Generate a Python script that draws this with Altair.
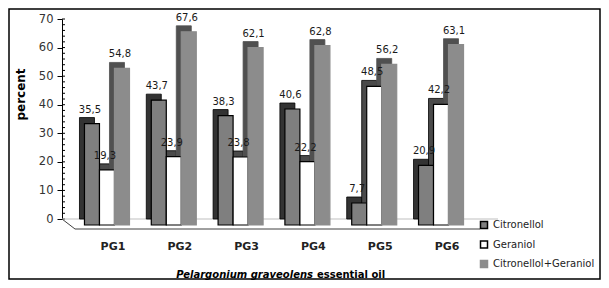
import altair as alt
import pandas as pd

samples = ["PG1", "PG2", "PG3", "PG4", "PG5", "PG6"]
series = ["Citronellol", "Geraniol", "Citronellol+Geraniol"]
citronellol = [35.5, 43.7, 38.3, 40.6, 7.7, 20.9]
geraniol = [19.3, 23.9, 23.8, 22.2, 48.5, 42.2]
combined = [54.8, 67.6, 62.1, 62.8, 56.2, 63.1]
y_ticks = [0, 10, 20, 30, 40, 50, 60, 70]
y_minor = list(range(0, 71, 2))

rows = []
for s, vals in zip(series, [citronellol, geraniol, combined]):
    for p, v in zip(samples, vals):
        rows.append({"sample": p, "series": s, "value": v,
                     "label": f"{v:.1f}".replace(".", ",")})
df = pd.DataFrame(rows)
minor_df = pd.DataFrame({"value": y_minor})

W, H = 436, 200
FONT = "DejaVu Sans"

fills = ["#7f7f7f", "#ffffff", "#8c8c8c"]
strokes = ["#000000", "#000000", "#8c8c8c"]
shadow_fill = ["#333333", "#4a4a4a", "#505050"]
shadow_stroke = ["#000000", "#000000", "#505050"]
offsets = [-21, -6, 9]

xscale = alt.Scale(domain=samples, paddingInner=0.1, paddingOuter=0.313)
yscale = alt.Scale(domain=[0, 70], nice=False, zero=True)

X = alt.X("sample:N", scale=xscale, sort=samples,
          axis=alt.Axis(title=None, domain=False, ticks=False, labelPadding=21,
                        labelFontSize=11, labelFontWeight="bold", labelAngle=0,
                        labelColor="#222222", labelFont=FONT))

main_axis = alt.Axis(values=y_ticks, tickSize=5, domainColor="black", tickColor="black",
                     labelFontSize=11.5, labelColor="#333333", labelFont=FONT, labelPadding=4,
                     title="percent", titleFontSize=12, titleFontWeight="bold", titleFont=FONT,
                     titleX=-42, titleY=75, titleBaseline="middle", titleColor="black",
                     orient="left", grid=False)
Y = alt.Y("value:Q", scale=yscale, axis=main_axis)

legend = alt.Legend(orient="none", legendX=417, legendY=201, symbolType="square",
                    symbolSize=49, labelFontSize=10, labelFont=FONT, labelColor="#222222",
                    rowPadding=5.5, labelOffset=4, title=None, symbolStrokeWidth=1.5, padding=0)

dummy = alt.Data(values=[{"a": 1}])

layers = []
# minor ticks on the inside of the y axis
layers.append(alt.Chart(minor_df).mark_rule(color="black", strokeWidth=1).encode(
    y=Y, x=alt.value(0), x2=alt.value(3)))

# floor
layers.append(alt.Chart(dummy).mark_rule(color="#bfbfbf", strokeWidth=1).encode(
    x=alt.value(0), x2=alt.value(W), y=alt.value(H)))
layers.append(alt.Chart(dummy).mark_rule(color="#404040", strokeWidth=1).encode(
    x=alt.value(13), x2=alt.value(418), y=alt.value(H + 10)))
layers.append(alt.Chart(dummy).mark_rule(color="#404040", strokeWidth=1).encode(
    x=alt.value(0), y=alt.value(H), x2=alt.value(13), y2=alt.value(H + 10)))

# shadows
for i, s in enumerate(series):
    layers.append(alt.Chart(df).transform_filter(alt.datum.series == s).mark_bar(
        width=15, xOffset=offsets[i] - 5, y2Offset=6, fill=shadow_fill[i],
        stroke=shadow_stroke[i], strokeWidth=0.8).encode(x=X, y=Y))

# fronts
for i, s in enumerate(series):
    layers.append(alt.Chart(df).transform_filter(alt.datum.series == s).mark_bar(
        width=15, xOffset=offsets[i], yOffset=6, y2Offset=6, strokeWidth=1.2).encode(
        x=X, y=Y,
        color=alt.Color("series:N", scale=alt.Scale(domain=series, range=fills), legend=legend),
        stroke=alt.Stroke("series:N", scale=alt.Scale(domain=series, range=strokes), legend=legend)))

# value labels
for i, s in enumerate(series):
    layers.append(alt.Chart(df).transform_filter(alt.datum.series == s).mark_text(
        dx=offsets[i] - 2, dy=-3, baseline="bottom", fontSize=10, font=FONT,
        color="#1a1a1a").encode(x=X, y=Y, text="label:N"))

# x title
layers.append(alt.Chart(dummy).mark_text(
    text="Pelargonium graveolens", fontStyle="italic", fontWeight="bold", fontSize=10,
    align="right", font=FONT, color="black").encode(x=alt.value(251), y=alt.value(256)))
layers.append(alt.Chart(dummy).mark_text(
    text="essential oil", fontWeight="bold", fontSize=10,
    align="left", font=FONT, color="black").encode(x=alt.value(255), y=alt.value(256)))

# border
layers.append(alt.Chart(dummy).mark_rect(fillOpacity=0, stroke="black", strokeWidth=1.5).encode(
    x=alt.value(-53), x2=alt.value(538), y=alt.value(-10), y2=alt.value(260)))

chart = alt.layer(*layers).properties(
    width=W, height=H,
    autosize=alt.AutoSizeParams(type="none"),
    padding={"left": 54, "top": 11, "right": 103, "bottom": 61},
    background="white",
).configure_view(strokeWidth=0)

chart.save("out.html", embed_options={"renderer": "svg", "actions": False})
